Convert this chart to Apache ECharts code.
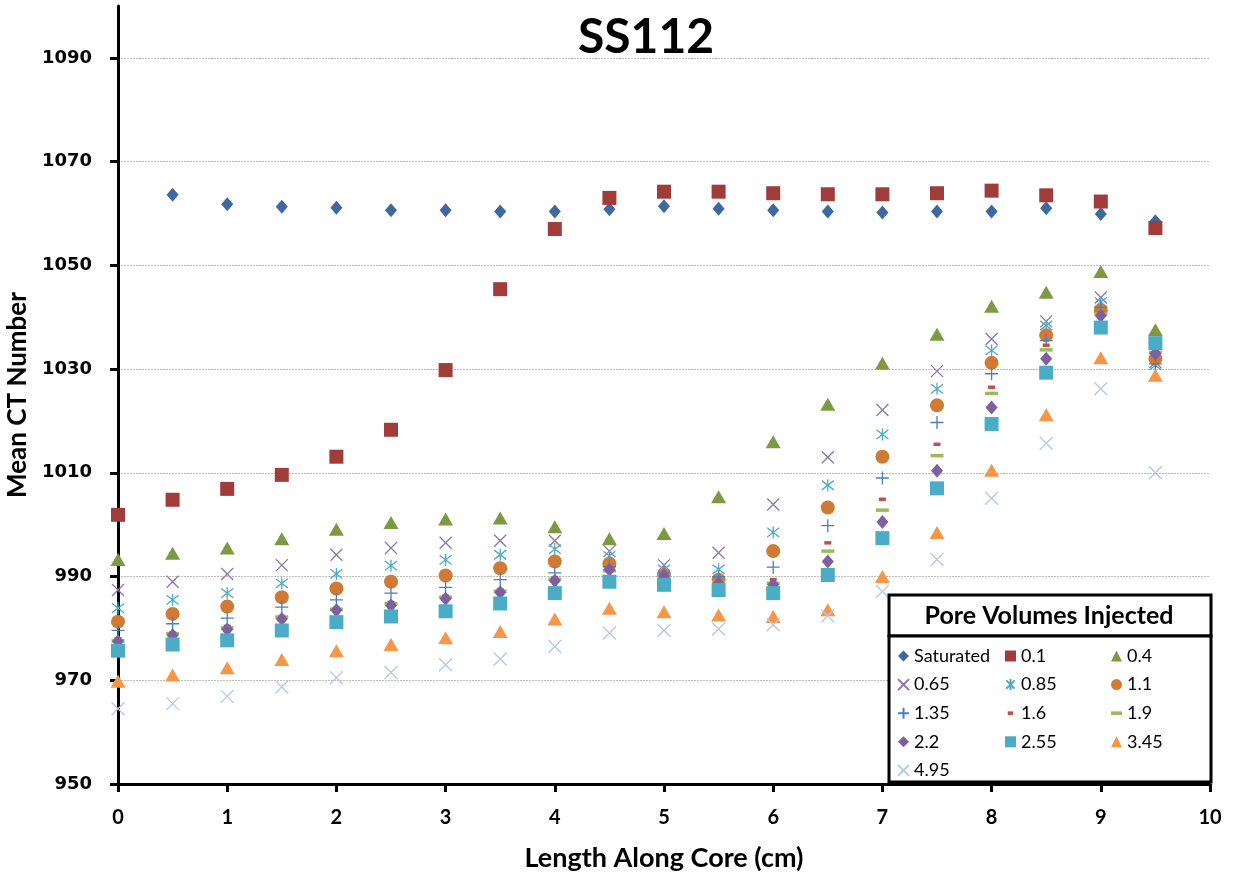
<!DOCTYPE html>
<html>
<head>
<meta charset="utf-8">
<title>SS112</title>
<script src="https://cdn.jsdelivr.net/npm/echarts@6/dist/echarts.min.js"></script>
<style>
  html, body { margin: 0; padding: 0; background: #fff; }
  #chart { width: 1234px; height: 879px; }
</style>
</head>
<body>
<div id="chart"></div>
<script>
// Position of each CT slice along the core (cm)
const lengthCm = [0, 0.5, 1, 1.5, 2, 2.5, 3, 3.5, 4, 4.5, 5, 5.5, 6, 6.5, 7, 7.5, 8, 8.5, 9, 9.5];

// Mean CT number per slice, one array per pore-volume stage
const ctSaturated = [null, 1063.6, 1061.8, 1061.3, 1061.1, 1060.6, 1060.6, 1060.4, 1060.4, 1060.8, 1061.4, 1060.9, 1060.6, 1060.4, 1060.2, 1060.4, 1060.4, 1061.0, 1059.9, 1058.5];
const ctPv0_1  = [1001.9, 1004.8, 1006.9, 1009.6, 1013.1, 1018.3, 1029.8, 1045.4, 1057.0, 1063.0, 1064.2, 1064.2, 1063.9, 1063.7, 1063.7, 1063.9, 1064.4, 1063.5, 1062.3, 1057.2];
const ctPv0_4  = [993.3, 994.5, 995.5, 997.3, 999.1, 1000.4, 1001.1, 1001.3, 999.6, 997.3, 998.3, 1005.4, 1016.0, 1023.2, 1031.1, 1036.7, 1042.1, 1044.8, 1048.8, 1037.6];
const ctPv0_65 = [987.4, 989.0, 990.5, 992.2, 994.2, 995.5, 996.5, 996.9, 996.9, 994.9, 992.2, 994.6, 1003.9, 1013.0, 1022.1, 1029.6, 1035.8, 1039.2, 1043.8, 1031.3];
const ctPv0_85 = [983.9, 985.5, 986.8, 988.7, 990.5, 992.1, 993.2, 994.2, 995.3, 994.0, 991.4, 991.4, 998.5, 1007.6, 1017.4, 1026.2, 1033.6, 1038.4, 1042.9, 1030.7];
const ctPv1_1  = [981.3, 982.8, 984.2, 986.0, 987.7, 989.0, 990.2, 991.6, 992.9, 992.4, 990.3, 989.4, 994.9, 1003.3, 1013.1, 1023.0, 1031.2, 1036.5, 1041.3, 1032.0];
const ctPv1_35 = [979.6, 980.9, 982.0, 984.1, 985.5, 986.8, 987.9, 989.4, 990.7, 991.9, 990.8, 990.0, 991.8, 999.8, 1009.0, 1019.7, 1029.1, 1035.5, 1041.9, 1031.0];
const ctPv1_6  = [978.0, 979.1, 980.4, 982.3, 983.9, 985.0, 986.2, 987.4, 989.7, 991.3, 990.1, 989.0, 989.4, 996.5, 1004.9, 1015.5, 1026.5, 1034.6, 1040.9, 1033.4];
const ctPv1_9  = [977.6, 979.0, 980.1, 982.2, 983.7, 984.8, 986.0, 987.2, 989.5, 991.1, 990.0, 988.9, 988.7, 994.9, 1002.8, 1013.3, 1025.3, 1033.7, 1040.6, 1033.2];
const ctPv2_2  = [977.5, 978.7, 979.8, 981.8, 983.5, 984.4, 985.7, 986.9, 989.2, 991.3, 990.1, 988.7, 988.4, 992.9, 1000.5, 1010.4, 1022.6, 1032.0, 1040.3, 1033.0];
const ctPv2_55 = [975.7, 976.9, 977.7, 979.6, 981.2, 982.3, 983.3, 984.8, 986.8, 989.0, 988.4, 987.4, 986.8, 990.3, 997.4, 1007.0, 1019.4, 1029.3, 1038.0, 1035.0];
const ctPv3_45 = [969.8, 971.0, 972.4, 974.0, 975.7, 976.9, 978.2, 979.4, 981.8, 983.9, 983.2, 982.6, 982.3, 983.6, 990.0, 998.5, 1010.5, 1021.2, 1032.2, 1028.8];
const ctPv4_95 = [964.5, 965.5, 966.9, 968.7, 970.5, 971.5, 973.0, 974.1, 976.5, 979.1, 979.6, 979.9, 980.7, 982.4, 987.1, 993.3, 1005.1, 1015.7, 1026.2, 1010.0];

// Series names as shown in the legend
const stageNames = ['Saturated', '0.1', '0.4', '0.65', '0.85', '1.1', '1.35', '1.6', '1.9', '2.2', '2.55', '3.45', '4.95'];
const stageValues = [ctSaturated, ctPv0_1, ctPv0_4, ctPv0_65, ctPv0_85, ctPv1_1, ctPv1_35, ctPv1_6, ctPv1_9, ctPv2_2, ctPv2_55, ctPv3_45, ctPv4_95];

// Axis tick labels
const yTicks = [950, 970, 990, 1010, 1030, 1050, 1070, 1090];

// Marker shapes
const CROSS = 'path://M0,0L10,10M10,0L0,10';
const STAR = 'path://M0,0L10,10M10,0L0,10M5,-1.5L5,11.5';
const PLUS = 'path://M5,0L5,10M0,5L10,5';

const markerStyles = {
  'Saturated': { symbol: 'diamond', size: [12, 14], color: '#3D69A0' },
  '0.1':  { symbol: 'rect', size: 14, color: '#A03C3A' },
  '0.4':  { symbol: 'triangle', size: [15, 13], color: '#7D9A42' },
  '0.65': { symbol: CROSS, size: 12, color: '#8A77AE', stroke: 1.3 },
  '0.85': { symbol: STAR, size: 12, color: '#4BACC6', stroke: 1.3 },
  '1.1':  { symbol: 'circle', size: 14, color: '#D07A33' },
  '1.35': { symbol: PLUS, size: 13, color: '#4A7EBF', stroke: 1.3 },
  '1.6':  { symbol: 'rect', size: [7, 3.5], color: '#C0504D' },
  '1.9':  { symbol: 'rect', size: [13, 3.5], color: '#9BBB59' },
  '2.2':  { symbol: 'diamond', size: [12, 14], color: '#7D60A0' },
  '2.55': { symbol: 'rect', size: 14, color: '#4BACC6' },
  '3.45': { symbol: 'triangle', size: [15, 13], color: '#F79646' },
  '4.95': { symbol: CROSS, size: 13, color: '#B8C7E3', stroke: 1.3 }
};

const series = stageNames.map(function (name, i) {
  const st = markerStyles[name];
  const data = [];
  stageValues[i].forEach(function (v, j) {
    if (v !== null) data.push([lengthCm[j], v]);
  });
  return {
    name: name,
    type: 'scatter',
    data: data,
    symbol: st.symbol,
    symbolSize: st.size,
    itemStyle: {
      color: st.color,
      borderColor: st.stroke ? st.color : 'transparent',
      borderWidth: st.stroke || 0,
      opacity: 1
    },
    emphasis: { disabled: true },
    z: 2 + i * 0.01
  };
});

// Legend laid out in three columns inside the boxed key
const legendColumns = [
  ['Saturated', '0.65', '1.35', '2.2', '4.95'],
  ['0.1', '0.85', '1.6', '2.55'],
  ['0.4', '1.1', '1.9', '3.45']
];
const legendIcons = {
  '1.6': 'path://M0,0M12,4M3,0h6v4h-6z',
  '1.9': 'path://M0,0h12v4h-12z'
};
const legendLeft = [897, 1005, 1111];
const legends = legendColumns.map(function (col, c) {
  return {
    orient: 'vertical',
    left: legendLeft[c],
    top: 647,
    padding: 0,
    itemWidth: 11,
    itemHeight: 11,
    itemGap: 10.6,
    selectedMode: false,
    z: 20,
    textStyle: { fontFamily: 'Lato', fontSize: 18, lineHeight: 18, color: '#000', padding: [0, 0, 0, 0] },
    data: col.map(function (n) {
      return legendIcons[n] ? { name: n, icon: legendIcons[n] } : { name: n };
    })
  };
});

const chart = echarts.init(document.getElementById('chart'), null, { renderer: 'canvas' });
chart.setOption({
  backgroundColor: '#fff',
  animation: false,
  title: {
    text: 'SS112',
    left: 641,
    top: 9,
    textAlign: 'center',
    textStyle: { fontFamily: 'Lato', fontWeight: 'bold', fontSize: 48, color: '#000' }
  },
  grid: { left: 118, right: 24, top: 6, bottom: 95, containLabel: false, outerBoundsMode: 'none' },
  xAxis: {
    type: 'value',
    min: 0,
    max: 10,
    interval: 1,
    name: 'Length Along Core (cm)',
    nameLocation: 'middle',
    nameGap: 61,
    nameTextStyle: { fontFamily: 'Lato', fontWeight: 'bold', fontSize: 27, color: '#000' },
    axisLine: { lineStyle: { color: '#000', width: 3 } },
    axisTick: { inside: false, length: 8, lineStyle: { color: '#000', width: 3 } },
    axisLabel: { margin: 24, fontFamily: 'Lato', fontWeight: 'bold', fontSize: 20, color: '#000' },
    splitLine: { show: false }
  },
  yAxis: {
    type: 'value',
    min: 950,
    max: 1100,
    name: 'Mean CT Number',
    nameLocation: 'middle',
    nameRotate: 90,
    nameGap: 84,
    nameTextStyle: { fontFamily: 'Lato', fontWeight: 'bold', fontSize: 26, color: '#000' },
    axisLine: { show: true, lineStyle: { color: '#000', width: 3 } },
    axisTick: { show: true, inside: false, length: 8, customValues: yTicks, lineStyle: { color: '#000', width: 3 } },
    axisLabel: {
      margin: 26, customValues: yTicks,
      formatter: function (v) { return String(v); },
      fontFamily: 'DejaVu Sans', fontWeight: 'bold', fontSize: 18, color: '#000'
    },
    splitLine: { show: true, lineStyle: { color: '#BDBDBD', width: 1, type: [2, 1] } }
  },
  legend: legends,
  graphic: [
    {
      type: 'rect', z: 10,
      shape: { x: 889, y: 595, width: 322, height: 41 },
      style: { fill: '#fff', stroke: '#000', lineWidth: 3 }
    },
    {
      type: 'rect', z: 10,
      shape: { x: 889, y: 636, width: 322, height: 146 },
      style: { fill: '#fff', stroke: '#000', lineWidth: 3 }
    },
    {
      type: 'text', z: 11,
      style: {
        x: 1049, y: 616, text: 'Pore Volumes Injected',
        align: 'center', verticalAlign: 'middle',
        font: 'bold 25px Lato', fill: '#000'
      }
    }
  ],
  series: series
});
</script>
</body>
</html>
